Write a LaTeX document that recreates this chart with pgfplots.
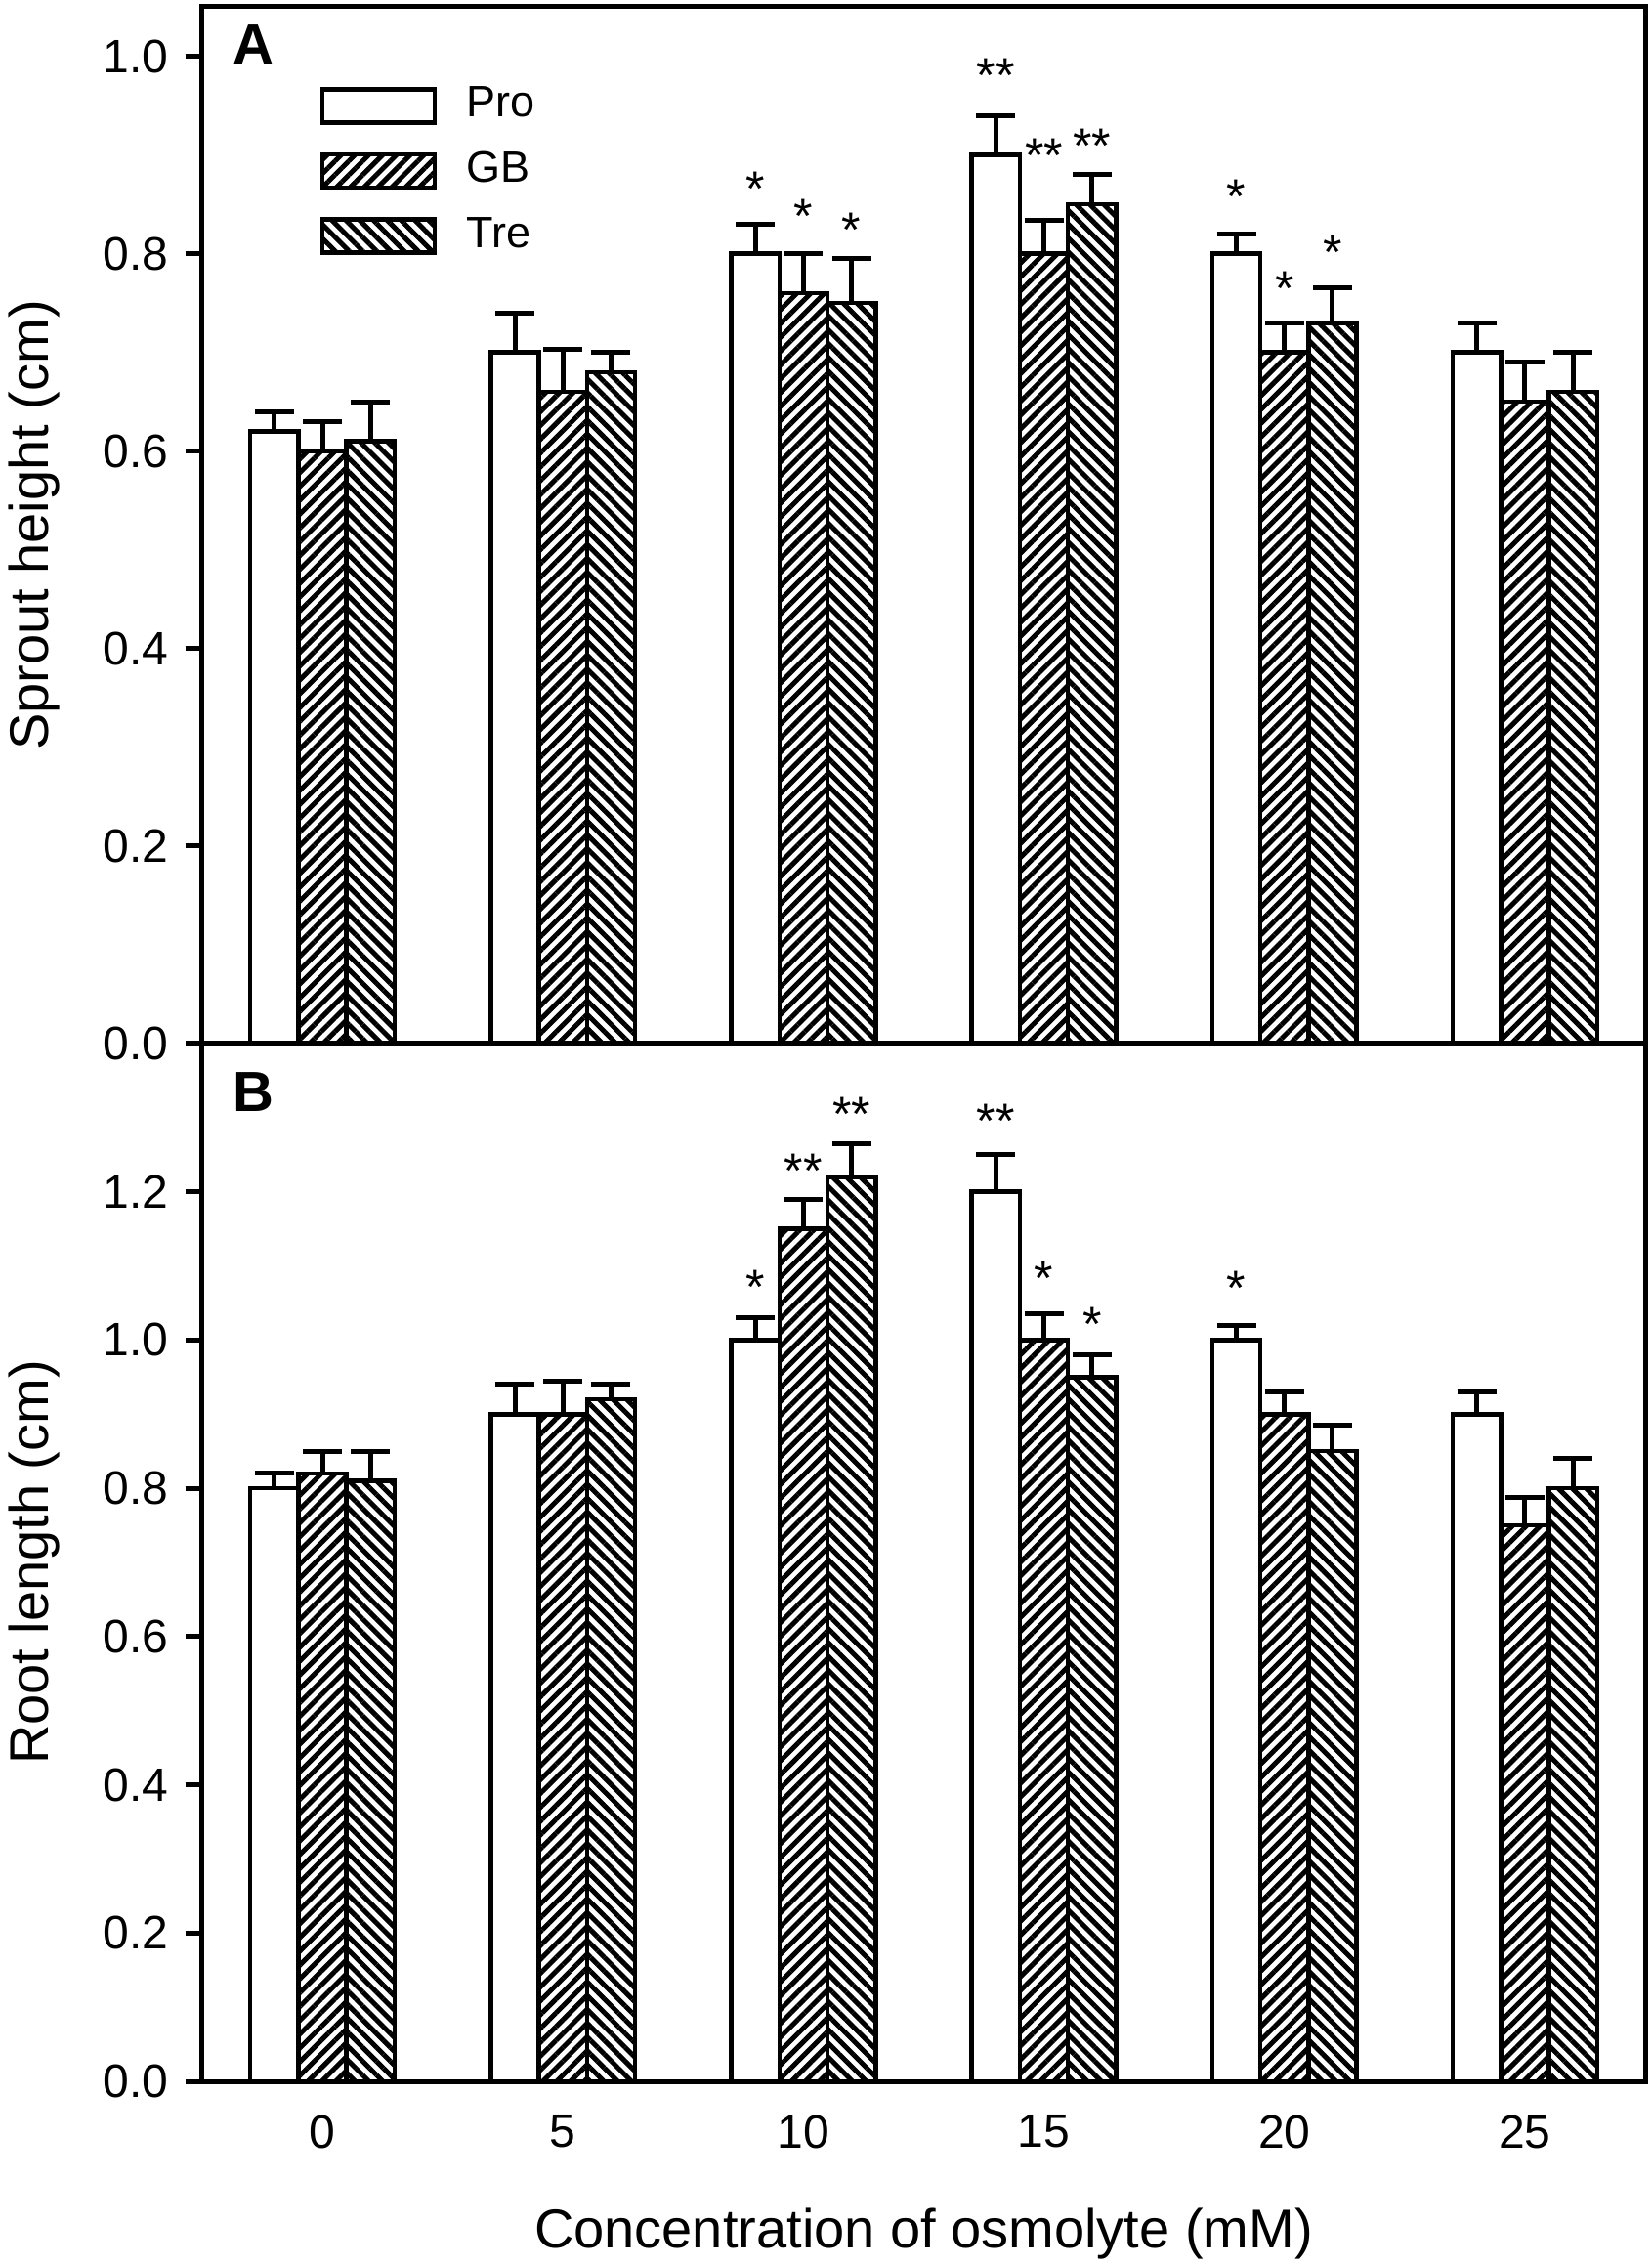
\documentclass[border=0pt]{standalone}
\usepackage{fontspec}
\setmainfont{Liberation Sans}
\usepackage{pgfplots}
\usepackage{pgfplotstable}
\pgfplotsset{compat=1.18}
\usetikzlibrary{patterns.meta}

% sprout height, panel A
\pgfplotstableread{
x  pro  proe  gb   gbe   tre  tree
0  0.62 0.02  0.60 0.03  0.61 0.04
5  0.70 0.04  0.66 0.043 0.68 0.02
10 0.80 0.03  0.76 0.04  0.75 0.045
15 0.90 0.04  0.80 0.034 0.85 0.03
20 0.80 0.02  0.70 0.03  0.73 0.035
25 0.70 0.03  0.65 0.04  0.66 0.04
}\sprout

% root length, panel B
\pgfplotstableread{
x  pro  proe  gb   gbe   tre  tree
0  0.80 0.02  0.82 0.03  0.81 0.04
5  0.90 0.04  0.90 0.045 0.92 0.02
10 1.00 0.03  1.15 0.04  1.22 0.045
15 1.20 0.05  1.00 0.035 0.95 0.03
20 1.00 0.02  0.90 0.03  0.85 0.035
25 0.90 0.03  0.75 0.038 0.80 0.04
}\rootdata

% significance marks (y = centre of the asterisk)
\pgfplotstableread{
x  y     s
9  0.877 *
10 0.849 *
11 0.835 *
14 0.992 **
15 0.911 **
16 0.921 **
19 0.869 *
20 0.776 *
21 0.813 *
}\starsA

\pgfplotstableread{
x  y     s
9  1.086 *
10 1.243 **
11 1.320 **
14 1.311 **
15 1.099 *
16 1.037 *
19 1.085 *
}\starsB

\pgfplotsset{
  osmo/.style={
    scale only axis, width=295.4pt,
    xmin=-2.5, xmax=27.5, ymin=0,
    xtick={0,5,10,15,20,25},
    xtick pos=bottom, ytick pos=left,
    xtick style={draw=none},
    tick align=outside, major tick length=3.4pt,
    ytick style={line width=1pt, black},
    axis line style={line width=1pt},
    /pgf/number format/assume math mode=true,
    ticklabel style={font=\fontsize{9.6}{11}\selectfont},
    yticklabel style={/pgf/number format/.cd, fixed, fixed zerofill, precision=1},
    every axis y label/.style={at={([xshift=-31.4pt]axis description cs:0,0.5)},
      rotate=90, anchor=base, font=\fontsize{11.2}{13}\selectfont},
    every axis x label/.style={at={([yshift=-34pt]axis description cs:0.5,0)},
      anchor=base, font=\fontsize{11.2}{13}\selectfont},
    clip=false,
  },
  eb/.style={error bars/.cd, y dir=plus, y explicit,
    error bar style={line width=1pt, black, solid},
    error mark options={rotate=90, mark size=4pt, line width=1pt, black}},
  % bars sit at concentration -1, 0, +1 (one bar width each)
  box/.style={ybar, bar width=1, bar shift=0, draw=black, line width=0.9pt,
    legend image code/.code={\draw[##1] (0pt,-3.4pt) rectangle (23pt,3.4pt);}},
  pro/.style={box, fill=white},
  gb/.style={box, pattern={Lines[angle=45,distance=2pt,line width=1pt]}},
  tre/.style={box, pattern={Lines[angle=-45,distance=2pt,line width=1pt]}},
  stars/.style={draw=none, mark=none, nodes near coords, point meta=explicit symbolic,
    every node near coord/.append style={anchor=base, yshift=-5.75pt, inner sep=0pt,
      font=\fontsize{10}{12}\selectfont}},
}
\tikzset{panel/.style={anchor=north west, inner sep=0pt, font=\bfseries\fontsize{11.6}{13}\selectfont}}

\begin{document}
\begin{tikzpicture}
\useasboundingbox (-41.4pt,-37.6pt) rectangle (296.6pt,426pt);

\begin{axis}[osmo, at={(0,212.4pt)}, height=212.2pt,
    ymax=1.05, ytick={0,0.2,0.4,0.6,0.8,1.0},
    xticklabels={},
    ylabel={Sprout height (cm)},
    legend style={draw=none, fill=none, at={(axis description cs:0.0819,0.9227)},
      anchor=north west, inner sep=0pt, outer sep=0pt, row sep=5.6pt,
      column sep=6pt, font=\fontsize{9}{11}\selectfont, nodes={inner sep=0pt}},
    legend cell align=left]
  \addplot[pro, eb] table[x expr=\thisrow{x}-1, y=pro, y error=proe] {\sprout};
  \addplot[gb, eb] table[x=x, y=gb, y error=gbe] {\sprout};
  \addplot[tre, eb] table[x expr=\thisrow{x}+1, y=tre, y error=tree] {\sprout};
  \addplot[stars] table[x=x, y=y, meta=s] {\starsA};
  \legend{Pro, GB, Tre}
  \node[panel] at ([xshift=6.2pt,yshift=-3.6pt]rel axis cs:0,1) {A};
\end{axis}

\begin{axis}[osmo, at={(0,0)}, height=212.4pt,
    ymax=1.4, ytick={0,0.2,0.4,0.6,0.8,1.0,1.2},
    ylabel={Root length (cm)},
    xlabel={Concentration of osmolyte (mM)}]
  \addplot[pro, eb] table[x expr=\thisrow{x}-1, y=pro, y error=proe] {\rootdata};
  \addplot[gb, eb] table[x=x, y=gb, y error=gbe] {\rootdata};
  \addplot[tre, eb] table[x expr=\thisrow{x}+1, y=tre, y error=tree] {\rootdata};
  \addplot[stars] table[x=x, y=y, meta=s] {\starsB};
  \node[panel] at ([xshift=6.2pt,yshift=-5.8pt]rel axis cs:0,1) {B};
\end{axis}
\end{tikzpicture}
\end{document}
